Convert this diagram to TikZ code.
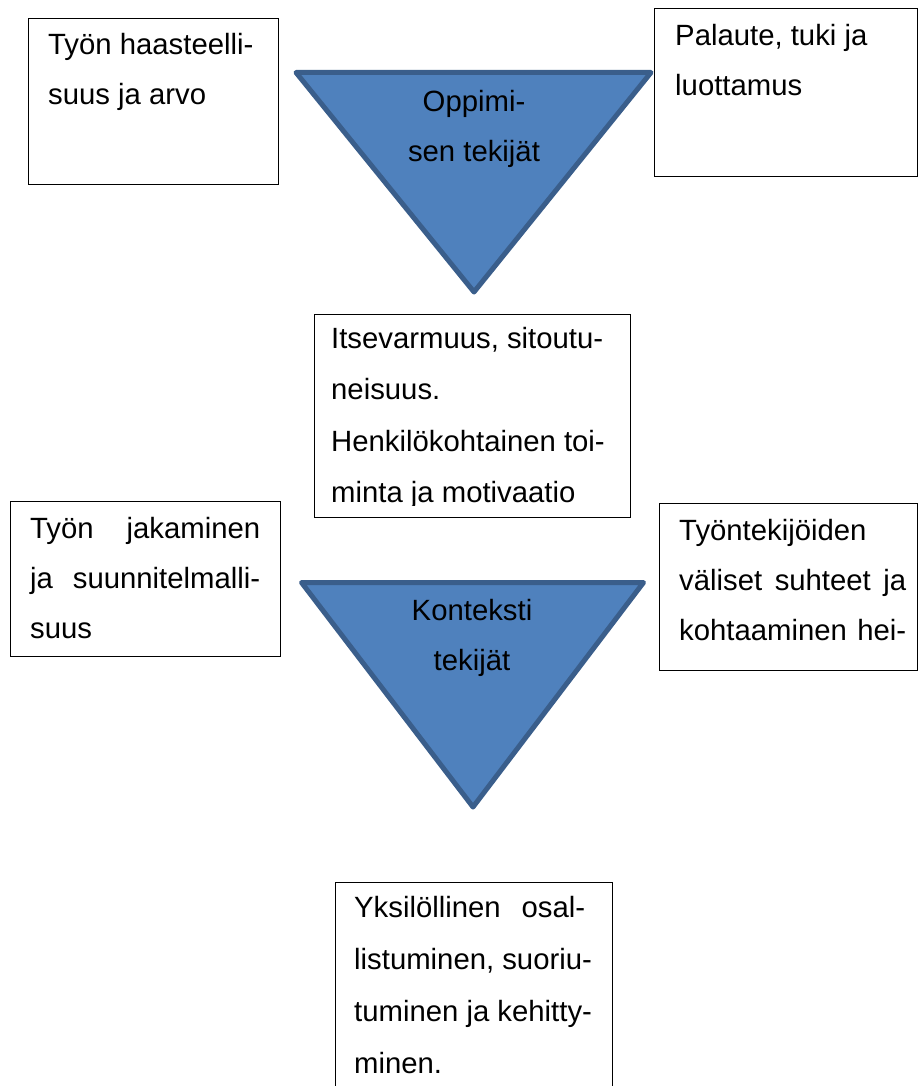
\documentclass[tikz,border=0pt]{standalone}
\usepackage{fontspec}
\setmainfont{Liberation Sans}
\definecolor{triblue}{HTML}{4F81BD}
\definecolor{triedge}{HTML}{3A5E8B}

% one text line per node, set at its baseline
\newcommand\boxlines[5]{% name, x, first baseline, line step, lines
  \foreach \ln [count=\k from 0] in {#5}
    \node[txt] (#1-\k) at (#2, #3+#4*\k) {\ln};}
\newcommand\jline[2]{\makebox[#1pt][s]{#2}}

\begin{document}
\begin{tikzpicture}[x=1pt, y=-1pt,
  frame/.style={draw=black, line width=1.2pt, fill=white, rectangle, inner sep=0pt, anchor=north west},
  tri/.style={fill=triblue, draw=triedge, line width=5pt, line join=round},
  txt/.style={anchor=base west, inner sep=0pt, font=\fontsize{29.3}{34}\selectfont},
  ctr/.style={anchor=base, inner sep=0pt, font=\fontsize{29.3}{34}\selectfont}]
\useasboundingbox (0,0) rectangle (918,1086);
\begin{scope}
\clip (0,0) rectangle (918,1086);

% upper row: two factor boxes and the learning triangle
\node[frame, minimum width=250pt, minimum height=166pt] (haaste) at (28,18) {};
\boxlines{haasteT}{48}{55}{50}{{Työn haasteelli-},{suus ja arvo}}

\node[frame, minimum width=263pt, minimum height=168pt] (palaute) at (654,8) {};
\boxlines{palauteT}{675}{46}{50}{{Palaute, tuki ja},{luottamus}}

\coordinate (o1) at (296,72.5);
\coordinate (o2) at (651,72.5);
\coordinate (o3) at (474,292);
\draw[tri] (o1) -- (o2) -- (o3) -- cycle;
\node[ctr] (oppimi1) at (474,112) {Oppimi-};
\node[ctr] (oppimi2) at (474,162) {sen tekijät};

% middle box, its text cut off at the inner margin
\node[frame, minimum width=316pt, minimum height=203pt] (itse) at (314,314) {};
\begin{scope}
\clip (314,314) rectangle (630,505);
\boxlines{itseT}{331}{348}{51.5}{{Itsevarmuus, sitoutu-},{neisuus.},{Henkilökohtainen toi-},{minta ja motivaatio}}
\end{scope}

% lower row: two context boxes and the context triangle
\node[frame, minimum width=270pt, minimum height=155pt] (jako) at (10,501) {};
\boxlines{jakoT}{30}{538}{50}{{\jline{230}{Työn jakaminen}},{\jline{230}{ja suunnitelmalli-}},{suus}}

\node[frame, minimum width=258pt, minimum height=167pt] (suhteet) at (659,503) {};
\boxlines{suhteetT}{679}{540}{50}{{Työntekijöiden},{\jline{227}{väliset suhteet ja}},{\jline{227}{kohtaaminen hei-}}}

\coordinate (k1) at (301.5,582.5);
\coordinate (k2) at (643.5,582.5);
\coordinate (k3) at (473,807);
\draw[tri] (k1) -- (k2) -- (k3) -- cycle;
\node[ctr] (konteksti1) at (472,620) {Konteksti};
\node[ctr] (konteksti2) at (472,670) {tekijät};

% bottom outcome box, running past the lower edge
\node[frame, minimum width=277pt, minimum height=220pt] (yksi) at (335,882) {};
\boxlines{yksiT}{354}{917}{52}{{\jline{231}{Yksilöllinen osal-}},{listuminen, suoriu-},{tuminen ja kehitty-},{minen.}}
\end{scope}
\end{tikzpicture}
\end{document}
